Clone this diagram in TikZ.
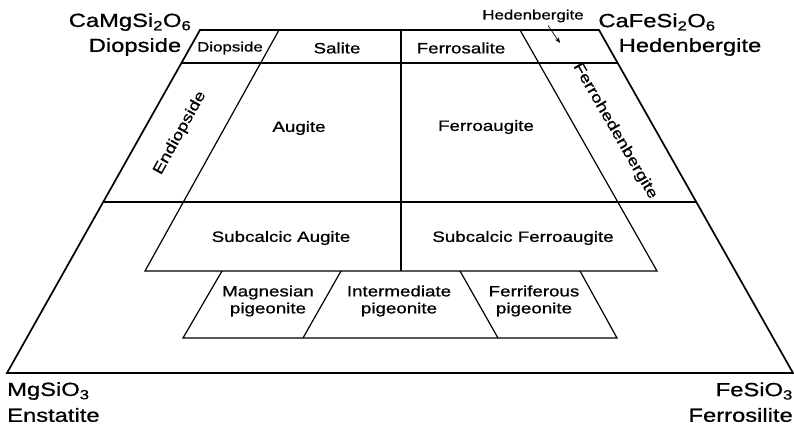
\documentclass[tikz,border=0pt]{standalone}
\usepackage{fontspec}
\setmainfont{Liberation Sans}[FakeStretch=1.25,FakeBold=0.8]
\usetikzlibrary{arrows.meta,calc}

\begin{document}
\begin{tikzpicture}[x=1pt,y=-1pt,
 edge/.style={line width=1.7pt,line join=miter},
 bnd/.style={line width=1.2pt},
 arr/.style={-{Stealth[length=2mm,width=1.6mm]},line width=.7pt},
 lbl/.style={font=\fontsize{15}{17}\selectfont,align=center,inner sep=0pt},
 sml/.style={font=\fontsize{13.5}{15}\selectfont,inner sep=0pt},
 big/.style={font=\fontsize{19}{21}\selectfont,inner sep=0pt}]
\useasboundingbox (0,0) rectangle (794,432);
% corners of the quadrilateral
\coordinate (di) at (200,30);
\coordinate (hd) at (599,30);
\coordinate (fs) at (793,373);
\coordinate (en) at (7,373);
\draw[edge] (di)--(hd)--(fs)--(en)--cycle;
% Wo45 and Wo25 lines
\draw[bnd] ($(di)!.0962!(en)$)--($(hd)!.0962!(fs)$);
\draw[bnd] ($(di)!.5015!(en)$)--($(hd)!.5015!(fs)$);
% inner boundaries
\coordinate (sl) at (145,271);
\coordinate (sr) at (657,271);
\draw[bnd] (279,30)--(sl)--(sr)--(520,30);
\draw[bnd] (401,30)--(401,271);
% pigeonite row
\draw[bnd] (222,271)--(183,338)--(617,338)--(580,271);
\draw[bnd] (341,271)--(303,338);
\draw[bnd] (460,271)--(498,338);
% field names
\node[sml] (dio) at (230,48) {Diopside};
\node[lbl] (sal) at (337,48) {Salite};
\node[lbl] (fsal) at (461,48) {Ferrosalite};
\node[lbl] (aug) at (299,128) {Augite};
\node[lbl] (faug) at (486,127) {Ferroaugite};
\node[lbl,rotate=61] (endi) at (180,133) {Endiopside};
\node[lbl,rotate=-60] (fhed) at (615,131) {Ferrohedenbergite};
\node[lbl] (saug) at (281,238) {Subcalcic Augite};
\node[lbl] (sfaug) at (523,238) {Subcalcic Ferroaugite};
\node[lbl] (mpig) at (268,301) {Magnesian\\pigeonite};
\node[lbl] (ipig) at (399,301) {Intermediate\\pigeonite};
\node[lbl] (fpig) at (534,301) {Ferriferous\\pigeonite};
\node[sml] (hed) at (533,16) {Hedenbergite};
\coordinate (hedtip) at (560,43);
\draw[arr] ($(hed.south)+(15,3)$)--(hedtip);
% end members
\node[big] (cmg) at (130,22) {CaMgSi\textsubscript{2}O\textsubscript{6}};
\node[big] (diop) at (135,47) {Diopside};
\node[big] (cfe) at (657,22) {CaFeSi\textsubscript{2}O\textsubscript{6}};
\node[big] (hden) at (690,47) {Hedenbergite};
\node[big,anchor=west] (mgs) at (7,391) {MgSiO\textsubscript{3}};
\node[big,anchor=west] (enst) at (7,415) {Enstatite};
\node[big,anchor=east] (fes) at (793,391) {FeSiO\textsubscript{3}};
\node[big,anchor=east] (fers) at (793,415) {Ferrosilite};
\end{tikzpicture}
\end{document}
